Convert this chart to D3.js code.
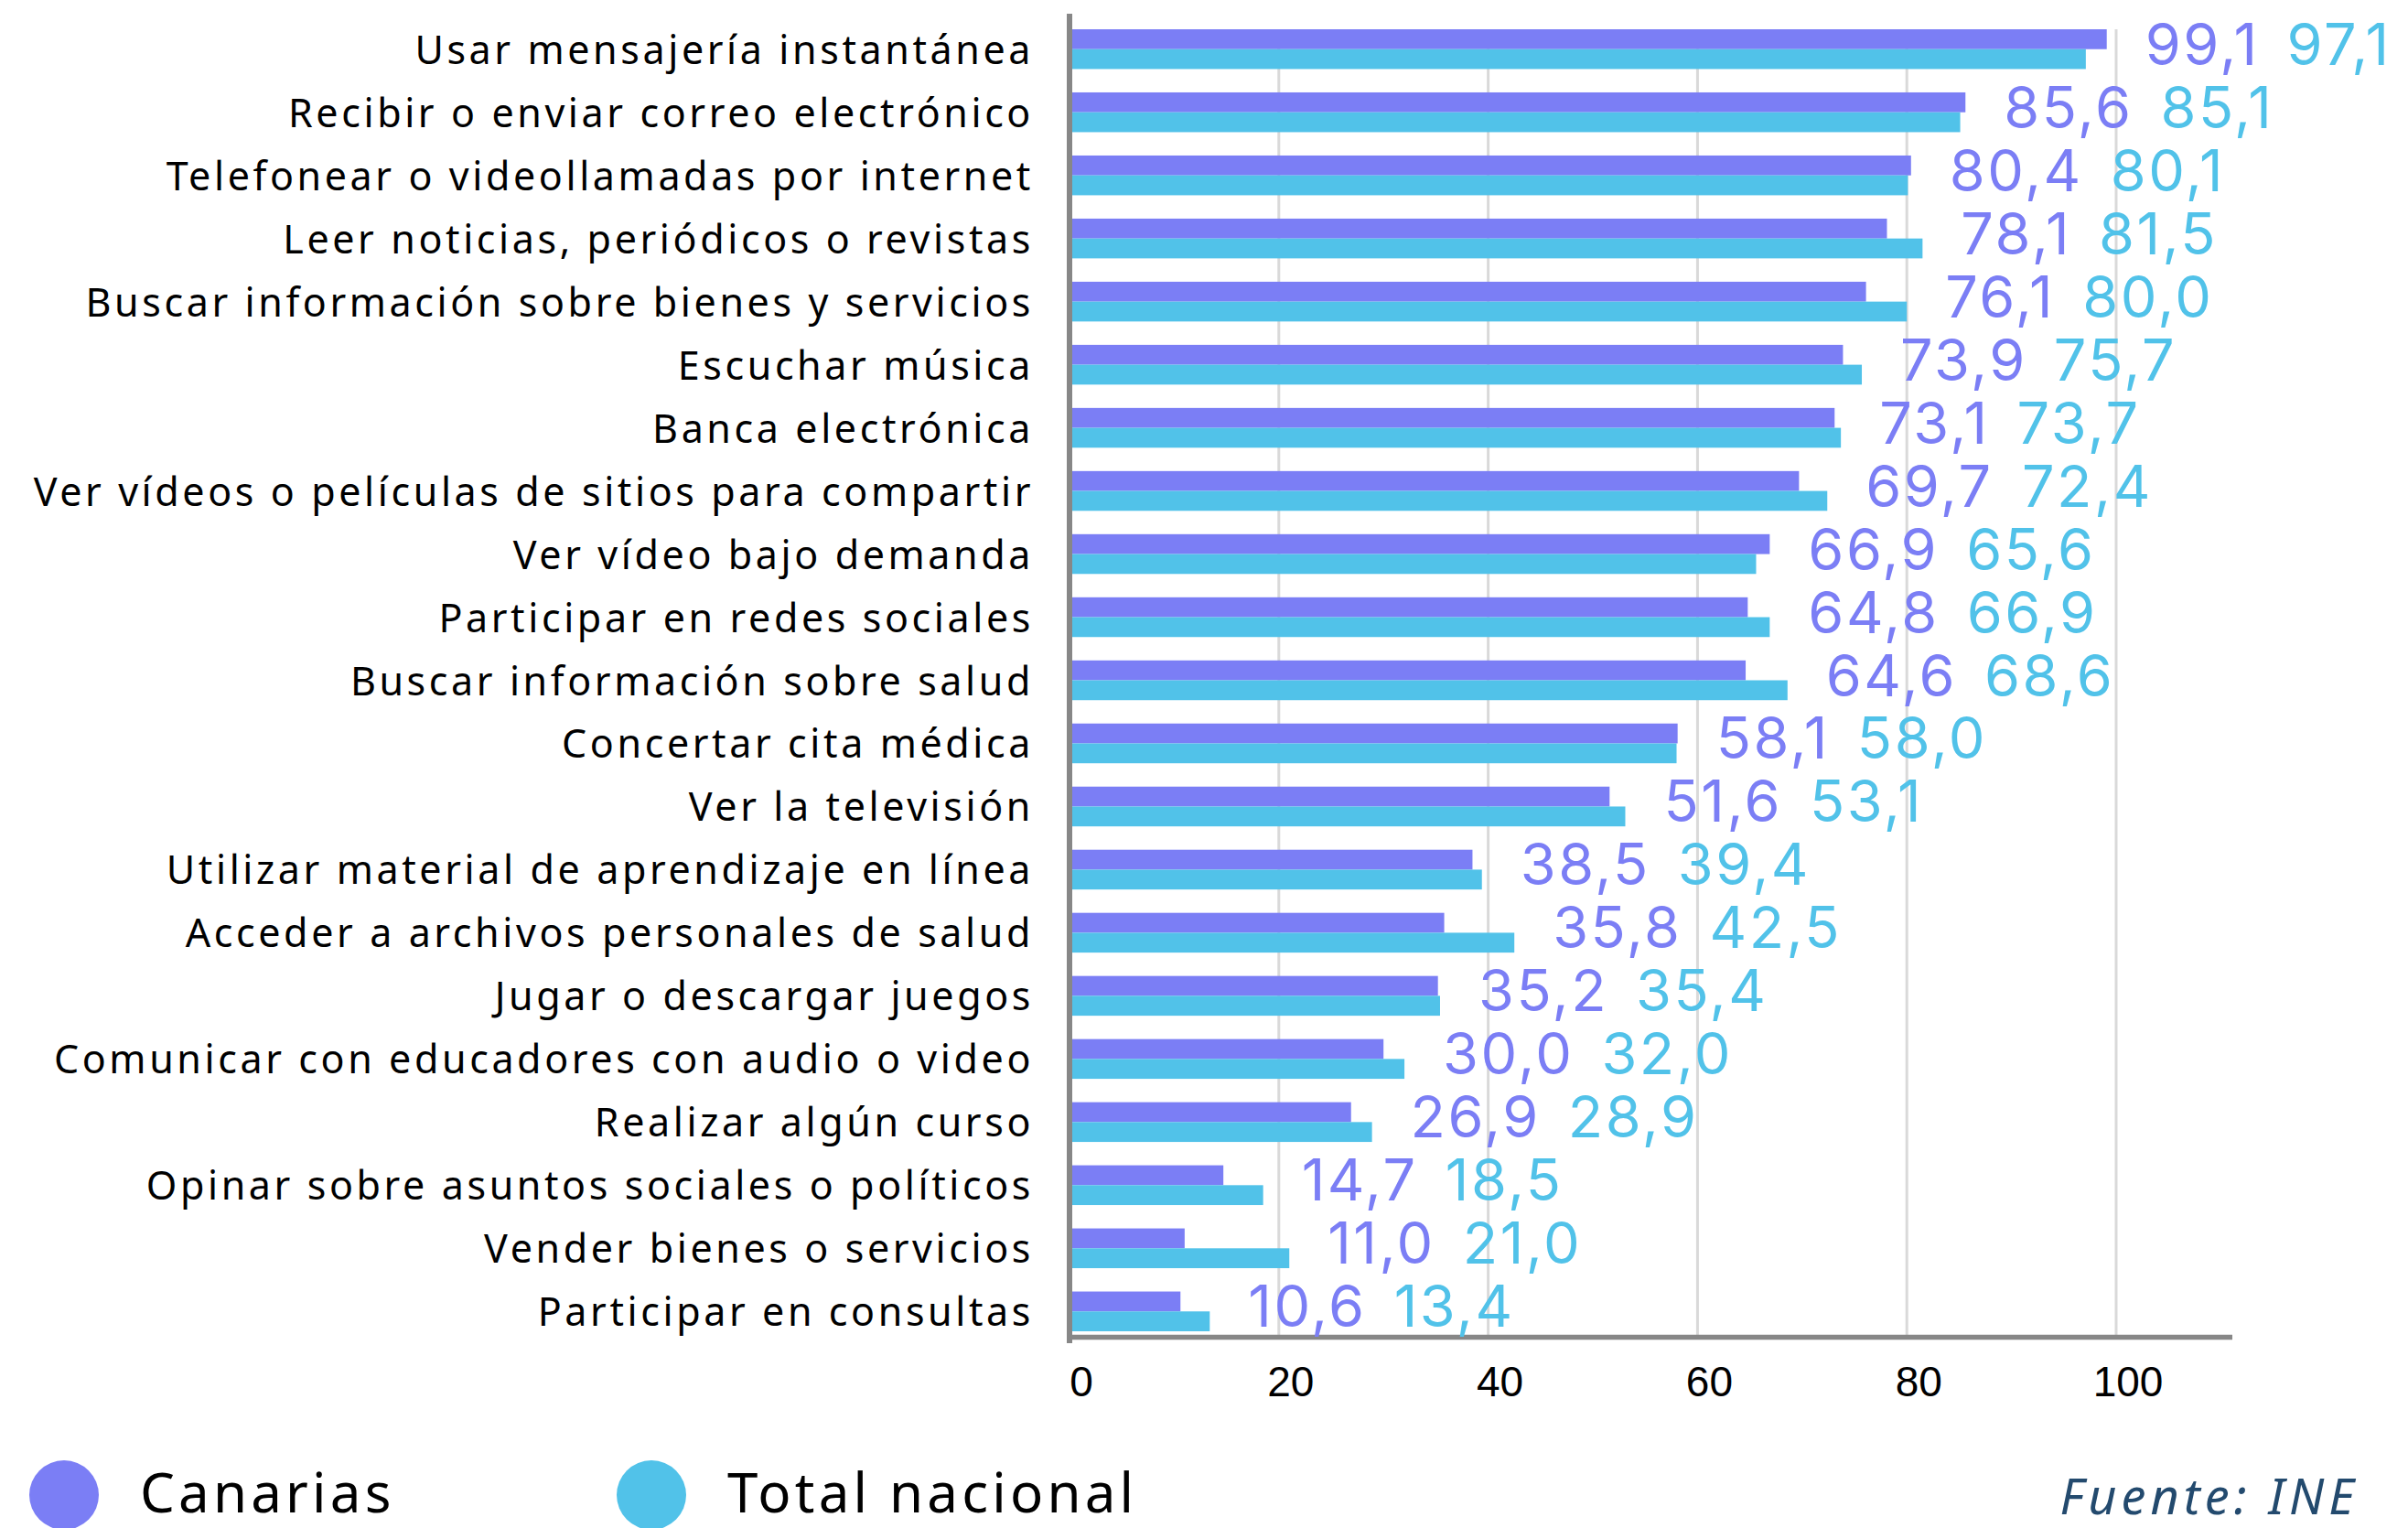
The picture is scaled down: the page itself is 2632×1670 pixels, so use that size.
<!DOCTYPE html>
<html>
<head>
<meta charset="utf-8">
<script src="https://cdn.jsdelivr.net/npm/d3@7"></script>
<style>
  html, body { margin: 0; padding: 0; background: #ffffff; }
  svg { display: block; }
</style>
</head>
<body>
<svg id="chart" width="2632" height="1670"></svg>
<script>
const categories = [
  "Usar mensajería instantánea",
  "Recibir o enviar correo electrónico",
  "Telefonear o videollamadas por internet",
  "Leer noticias, periódicos o revistas",
  "Buscar información sobre bienes y servicios",
  "Escuchar música",
  "Banca electrónica",
  "Ver vídeos o películas de sitios para compartir",
  "Ver vídeo bajo demanda",
  "Participar en redes sociales",
  "Buscar información sobre salud",
  "Concertar cita médica",
  "Ver la televisión",
  "Utilizar material de aprendizaje en línea",
  "Acceder a archivos personales de salud",
  "Jugar o descargar juegos",
  "Comunicar con educadores con audio o video",
  "Realizar algún curso",
  "Opinar sobre asuntos sociales o políticos",
  "Vender bienes o servicios",
  "Participar en consultas"
];
const canarias = [99.1, 85.6, 80.4, 78.1, 76.1, 73.9, 73.1, 69.7, 66.9, 64.8, 64.6, 58.1, 51.6, 38.5, 35.8, 35.2, 30.0, 26.9, 14.7, 11.0, 10.6];
const totalNacional = [97.1, 85.1, 80.1, 81.5, 80.0, 75.7, 73.7, 72.4, 65.6, 66.9, 68.6, 58.0, 53.1, 39.4, 42.5, 35.4, 32.0, 28.9, 18.5, 21.0, 13.4];
const seriesNames = ["Canarias", "Total nacional"];
const xTicks = [0, 20, 40, 60, 80, 100];
const source = "Fuente: INE";

const colors = ["#7b7ef5", "#51c2e9"];
const labelFont = "'Noto Sans', sans-serif";
const numFont = "'Liberation Sans', Arial, sans-serif";
const valFont = "Inter, 'Noto Sans', sans-serif";

const svg = d3.select("#chart");
const fmt = v => v.toFixed(1).replace(".", ",");

const x = d3.scaleLinear().domain([0, 111.1]).range([1169, 2440]);
const y = d3.scaleBand().domain(categories).range([32, 1455]).paddingInner(0.37).paddingOuter(0);
const sub = d3.scaleBand().domain(seriesNames).range([0, y.bandwidth()]);

// gridlines
svg.append("g").selectAll("line").data(xTicks.filter(t => t > 0)).join("line")
  .attr("x1", d => x(d)).attr("x2", d => x(d))
  .attr("y1", 32).attr("y2", 1460)
  .attr("stroke", "#d9d9d9").attr("stroke-width", 3);

// bars
const rows = categories.map((c, i) => ({ c, vals: [canarias[i], totalNacional[i]] }));
const g = svg.append("g");
rows.forEach(r => {
  r.vals.forEach((v, j) => {
    g.append("rect")
      .attr("x", x(0))
      .attr("y", y(r.c) + sub(seriesNames[j]))
      .attr("width", x(v) - x(0))
      .attr("height", sub.bandwidth())
      .attr("fill", colors[j]);
  });
});

// axes lines
svg.append("line").attr("x1", x(0)).attr("x2", x(0)).attr("y1", 15).attr("y2", 1468)
  .attr("stroke", "#878787").attr("stroke-width", 6);
svg.append("line").attr("x1", x(0) - 3).attr("x2", x.range()[1]).attr("y1", 1461.5).attr("y2", 1461.5)
  .attr("stroke", "#878787").attr("stroke-width", 5.5);

// x tick labels
svg.append("g").selectAll("text").data(xTicks).join("text")
  .attr("x", d => x(d) + 13).attr("y", 1526)
  .attr("text-anchor", "middle")
  .attr("font-family", numFont).attr("font-size", 46).attr("fill", "#000")
  .text(d => d);

// category labels
svg.append("g").selectAll("text").data(categories).join("text")
  .attr("x", 1130).attr("y", d => y(d) + y.bandwidth() / 2 + 16)
  .attr("text-anchor", "end")
  .attr("font-family", labelFont).attr("font-size", 43).attr("letter-spacing", 3.6)
  .attr("fill", "#000")
  .text(d => d);

// value labels
const vl = svg.append("g");
rows.forEach(r => {
  const t = vl.append("text")
    .attr("x", x(Math.max(r.vals[0], r.vals[1])) + 42)
    .attr("y", y(r.c) + y.bandwidth() / 2 + 17)
    .attr("font-family", valFont).attr("font-size", 63).attr("letter-spacing", 2.5);
  t.append("tspan").attr("fill", colors[0]).text(fmt(r.vals[0]));
  t.append("tspan").attr("dx", 30).attr("fill", colors[1]).text(fmt(r.vals[1]));
});

// legend
const legX = [70, 712];
seriesNames.forEach((s, i) => {
  svg.append("circle").attr("cx", legX[i]).attr("cy", 1634).attr("r", 38).attr("fill", colors[i]);
  svg.append("text").attr("x", legX[i] + 83).attr("y", 1653)
    .attr("font-family", labelFont).attr("font-size", 60).attr("letter-spacing", 4.2).attr("fill", "#000")
    .text(s);
});

// source
svg.append("text").attr("x", 2578).attr("y", 1655).attr("text-anchor", "end")
  .attr("font-family", labelFont).attr("font-size", 54).attr("font-style", "italic")
  .attr("letter-spacing", 5).attr("fill", "#234a6e")
  .text(source);
</script>
</body>
</html>
